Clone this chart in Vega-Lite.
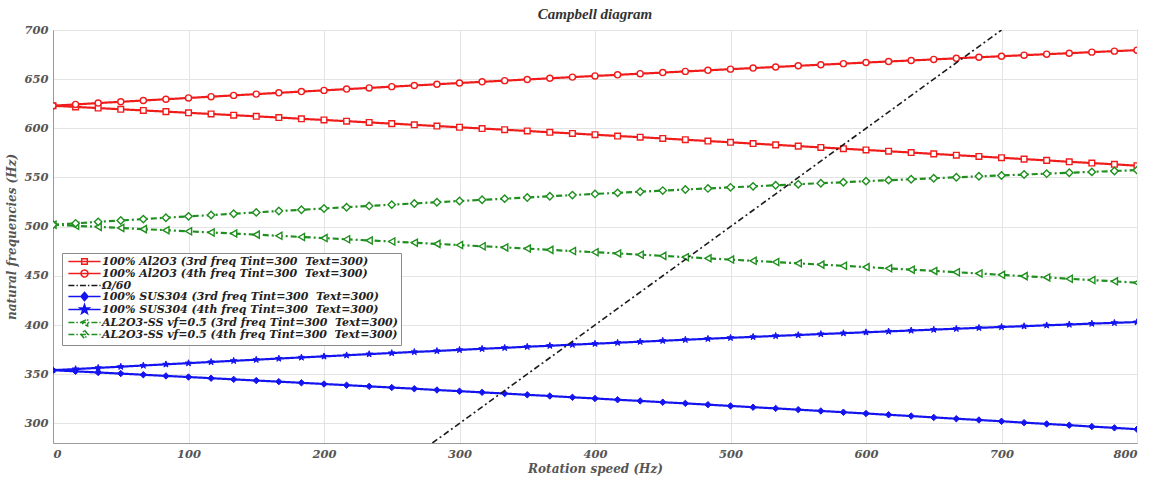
{
  "$schema": "https://vega.github.io/schema/vega-lite/v6.json",
  "width": 1084,
  "height": 413,
  "autosize": "none",
  "padding": {"left": 53, "top": 30, "right": 16, "bottom": 34},
  "background": "white",
  "title": {"text": "Campbell diagram", "font": "Liberation Serif", "fontSize": 15, "fontStyle": "italic", "fontWeight": "bold", "color": "#333333", "offset": 2, "anchor": "middle"},
  "config": {
    "view": {"stroke": "#9a9a9a", "strokeWidth": 1},
    "axis": {
      "labelFont": "DejaVu Serif", "labelFontStyle": "italic", "labelFontWeight": "bold", "labelFontSize": 11.5, "labelColor": "#555555",
      "titleFont": "DejaVu Serif", "titleFontStyle": "italic", "titleFontWeight": "bold", "titleFontSize": 12, "titleColor": "#555555",
      "gridColor": "#e4e4e4", "gridWidth": 1, "domainColor": "#9a9a9a", "ticks": false, "labelPadding": 5
    }
  },
  "datasets": {
    "freq": [
      {"x": 0, "a3": 623.0, "a4": 623.0, "b3": 354.0, "b4": 354.0, "g3": 502.0, "g4": 502.0},
      {"x": 16.667, "a3": 621.8, "a4": 624.3, "b3": 352.9, "b4": 355.2, "g3": 500.9, "g4": 503.4},
      {"x": 33.333, "a3": 620.6, "a4": 625.7, "b3": 351.7, "b4": 356.4, "g3": 499.8, "g4": 504.9},
      {"x": 50, "a3": 619.4, "a4": 627.0, "b3": 350.6, "b4": 357.6, "g3": 498.7, "g4": 506.3},
      {"x": 66.667, "a3": 618.2, "a4": 628.3, "b3": 349.4, "b4": 358.8, "g3": 497.5, "g4": 507.7},
      {"x": 83.333, "a3": 617.0, "a4": 629.6, "b3": 348.2, "b4": 360.0, "g3": 496.4, "g4": 509.1},
      {"x": 100, "a3": 615.8, "a4": 630.9, "b3": 347.1, "b4": 361.2, "g3": 495.3, "g4": 510.5},
      {"x": 116.667, "a3": 614.6, "a4": 632.2, "b3": 345.9, "b4": 362.4, "g3": 494.1, "g4": 511.8},
      {"x": 133.333, "a3": 613.4, "a4": 633.5, "b3": 344.7, "b4": 363.6, "g3": 493.0, "g4": 513.2},
      {"x": 150, "a3": 612.2, "a4": 634.8, "b3": 343.5, "b4": 364.7, "g3": 491.9, "g4": 514.5},
      {"x": 166.667, "a3": 611.0, "a4": 636.1, "b3": 342.4, "b4": 365.9, "g3": 490.7, "g4": 515.9},
      {"x": 183.333, "a3": 609.7, "a4": 637.4, "b3": 341.2, "b4": 367.0, "g3": 489.5, "g4": 517.2},
      {"x": 200, "a3": 608.5, "a4": 638.6, "b3": 340.0, "b4": 368.1, "g3": 488.4, "g4": 518.5},
      {"x": 216.667, "a3": 607.3, "a4": 639.9, "b3": 338.8, "b4": 369.2, "g3": 487.2, "g4": 519.8},
      {"x": 233.333, "a3": 606.0, "a4": 641.1, "b3": 337.6, "b4": 370.4, "g3": 486.0, "g4": 521.1},
      {"x": 250, "a3": 604.8, "a4": 642.4, "b3": 336.4, "b4": 371.5, "g3": 484.9, "g4": 522.4},
      {"x": 266.667, "a3": 603.6, "a4": 643.6, "b3": 335.2, "b4": 372.6, "g3": 483.7, "g4": 523.6},
      {"x": 283.333, "a3": 602.3, "a4": 644.8, "b3": 333.9, "b4": 373.6, "g3": 482.5, "g4": 524.9},
      {"x": 300, "a3": 601.1, "a4": 646.1, "b3": 332.7, "b4": 374.7, "g3": 481.3, "g4": 526.1},
      {"x": 316.667, "a3": 599.8, "a4": 647.3, "b3": 331.5, "b4": 375.8, "g3": 480.1, "g4": 527.3},
      {"x": 333.333, "a3": 598.6, "a4": 648.5, "b3": 330.3, "b4": 376.8, "g3": 478.9, "g4": 528.5},
      {"x": 350, "a3": 597.3, "a4": 649.7, "b3": 329.0, "b4": 377.9, "g3": 477.7, "g4": 529.7},
      {"x": 366.667, "a3": 596.0, "a4": 650.9, "b3": 327.8, "b4": 378.9, "g3": 476.4, "g4": 530.9},
      {"x": 383.333, "a3": 594.8, "a4": 652.1, "b3": 326.5, "b4": 380.0, "g3": 475.2, "g4": 532.1},
      {"x": 400, "a3": 593.5, "a4": 653.3, "b3": 325.3, "b4": 381.0, "g3": 474.0, "g4": 533.3},
      {"x": 416.667, "a3": 592.2, "a4": 654.4, "b3": 324.0, "b4": 382.0, "g3": 472.8, "g4": 534.4},
      {"x": 433.333, "a3": 591.0, "a4": 655.6, "b3": 322.8, "b4": 383.0, "g3": 471.5, "g4": 535.5},
      {"x": 450, "a3": 589.7, "a4": 656.7, "b3": 321.5, "b4": 384.0, "g3": 470.3, "g4": 536.7},
      {"x": 466.667, "a3": 588.4, "a4": 657.9, "b3": 320.3, "b4": 385.0, "g3": 469.0, "g4": 537.8},
      {"x": 483.333, "a3": 587.1, "a4": 659.0, "b3": 319.0, "b4": 386.0, "g3": 467.8, "g4": 538.9},
      {"x": 500, "a3": 585.8, "a4": 660.2, "b3": 317.7, "b4": 387.0, "g3": 466.5, "g4": 540.0},
      {"x": 516.667, "a3": 584.5, "a4": 661.3, "b3": 316.4, "b4": 387.9, "g3": 465.3, "g4": 541.0},
      {"x": 533.333, "a3": 583.2, "a4": 662.4, "b3": 315.2, "b4": 388.9, "g3": 464.0, "g4": 542.1},
      {"x": 550, "a3": 581.9, "a4": 663.6, "b3": 313.9, "b4": 389.8, "g3": 462.7, "g4": 543.2},
      {"x": 566.667, "a3": 580.6, "a4": 664.7, "b3": 312.6, "b4": 390.8, "g3": 461.4, "g4": 544.2},
      {"x": 583.333, "a3": 579.3, "a4": 665.8, "b3": 311.3, "b4": 391.7, "g3": 460.2, "g4": 545.2},
      {"x": 600, "a3": 578.0, "a4": 666.9, "b3": 310.0, "b4": 392.6, "g3": 458.9, "g4": 546.3},
      {"x": 616.667, "a3": 576.7, "a4": 668.0, "b3": 308.7, "b4": 393.5, "g3": 457.6, "g4": 547.3},
      {"x": 633.333, "a3": 575.4, "a4": 669.0, "b3": 307.4, "b4": 394.4, "g3": 456.3, "g4": 548.2},
      {"x": 650, "a3": 574.0, "a4": 670.1, "b3": 306.0, "b4": 395.3, "g3": 455.0, "g4": 549.2},
      {"x": 666.667, "a3": 572.7, "a4": 671.2, "b3": 304.7, "b4": 396.2, "g3": 453.7, "g4": 550.2},
      {"x": 683.333, "a3": 571.4, "a4": 672.3, "b3": 303.4, "b4": 397.1, "g3": 452.4, "g4": 551.2},
      {"x": 700, "a3": 570.1, "a4": 673.3, "b3": 302.1, "b4": 398.0, "g3": 451.0, "g4": 552.1},
      {"x": 716.667, "a3": 568.7, "a4": 674.4, "b3": 300.7, "b4": 398.8, "g3": 449.7, "g4": 553.0},
      {"x": 733.333, "a3": 567.4, "a4": 675.4, "b3": 299.4, "b4": 399.7, "g3": 448.4, "g4": 553.9},
      {"x": 750, "a3": 566.0, "a4": 676.4, "b3": 298.1, "b4": 400.5, "g3": 447.0, "g4": 554.9},
      {"x": 766.667, "a3": 564.7, "a4": 677.5, "b3": 296.7, "b4": 401.4, "g3": 445.7, "g4": 555.7},
      {"x": 783.333, "a3": 563.4, "a4": 678.5, "b3": 295.4, "b4": 402.2, "g3": 444.4, "g4": 556.6},
      {"x": 800, "a3": 562.0, "a4": 679.5, "b3": 294.0, "b4": 403.0, "g3": 443.0, "g4": 557.5}
    ],
    "omega": [
      {"x": 280, "om": 280},
      {"x": 700, "om": 700}
    ]
  },
  "layer": [
    {
      "data": {"name": "freq"},
      "transform": [{"fold": ["a3", "a4", "b3", "b4", "g3", "g4"], "as": ["series", "f"]}],
      "mark": {"type": "line", "clip": true},
      "encoding": {
        "x": {"field": "x", "type": "quantitative", "scale": {"domain": [0, 800], "nice": false}, "axis": {"values": [0, 100, 200, 300, 400, 500, 600, 700, 800], "title": "Rotation speed (Hz)", "titlePadding": 4}},
        "y": {"field": "f", "type": "quantitative", "scale": {"domain": [280, 700], "nice": false, "zero": false}, "axis": {"values": [300, 350, 400, 450, 500, 550, 600, 650, 700], "title": "natural frequencies (Hz)", "titlePadding": 5}},
        "color": {
          "field": "series", "type": "nominal",
          "scale": {"domain": ["a3", "a4", "om", "b3", "b4", "g3", "g4"], "range": ["#f01c1c", "#f01c1c", "#1a1a1a", "#1414f0", "#1414f0", "#1f8f1f", "#1f8f1f"]},
          "legend": {
            "orient": "none", "legendX": 9, "legendY": 223,
            "title": null,
            "labelFont": "DejaVu Serif", "labelFontStyle": "italic", "labelFontWeight": "bold", "labelFontSize": 11, "labelColor": "#222222", "labelLimit": 600,
            "labelExpr": "{'a3':'100% Al2O3 (3rd freq Tint=300\u00a0 Text=300)','a4':'100% Al2O3 (4th freq Tint=300\u00a0 Text=300)','om':'Ω/60','b3':'100% SUS304 (3rd freq Tint=300\u00a0 Text=300)','b4':'100% SUS304 (4th freq Tint=300\u00a0 Text=300)','g3':'AL2O3-SS vf=0.5 (3rd freq Tint=300\u00a0 Text=300)','g4':'AL2O3-SS vf=0.5 (4th freq Tint=300\u00a0 Text=300)'}[datum.value]",
            "symbolSize": 49, "symbolOffset": 14, "labelOffset": 12, "rowPadding": -3,
            "fillColor": "white", "strokeColor": "#8a8a8a", "padding": 3,
            "encode": {
              "symbols": {
                "update": {
                  "shape": {"signal": "{'a3':'M-4.6,0H4.6M-0.8,-0.8H0.8V0.8H-0.8Z','a4':'M-4.6,0H4.6M-1,0A1,1 0 1,0 1,0A1,1 0 1,0 -1,0Z','om':'M-4.6,0H4.6','b3':'M-4.6,0H4.6M0,-1.2L1,0L0,1.2L-1,0Z','b4':'M-4.6,0H4.6M0,-1.4L0.33,-0.45L1.33,-0.43L0.53,0.17L0.82,1.13L0,0.56L-0.82,1.13L-0.53,0.17L-1.33,-0.43L-0.33,-0.45Z','g3':'M-4.6,0H4.6M-1.1,0L0.9,-1L0.9,1Z','g4':'M-4.6,0H4.6M0,-1.2L1,0L0,1.2L-1,0Z'}[datum.value]"},
                  "strokeDash": {"signal": "(datum.value==='om'||datum.value==='g3'||datum.value==='g4') ? [6,2,1.5,2] : [1,0]"},
                  "fill": {"signal": "datum.value==='b3'||datum.value==='b4' ? '#1414f0' : 'white'"},
                  "fillOpacity": {"value": 1},
                  "strokeWidth": {"value": 1.5},
                  "opacity": {"value": 1}
                }
              }
            }
          }
        },
        "strokeDash": {"field": "series", "type": "nominal", "scale": {"domain": ["a3", "a4", "b3", "b4", "g3", "g4"], "range": [[1, 0], [1, 0], [1, 0], [1, 0], [6, 3, 2, 3], [6, 3, 2, 3]]}, "legend": null},
        "strokeWidth": {"field": "series", "type": "nominal", "scale": {"domain": ["a3", "a4", "b3", "b4", "g3", "g4"], "range": [2.2, 2.2, 2.2, 2.2, 1.6, 1.6]}, "legend": null}
      }
    },
    {
      "data": {"name": "freq"},
      "transform": [{"fold": ["a3", "a4", "g3", "g4"], "as": ["series", "f"]}],
      "mark": {"type": "point", "filled": true, "fill": "white", "strokeWidth": 1.4, "opacity": 1, "clip": true},
      "encoding": {
        "x": {"field": "x", "type": "quantitative"},
        "y": {"field": "f", "type": "quantitative"},
        "stroke": {"field": "series", "type": "nominal", "scale": {"domain": ["a3", "a4", "b3", "b4", "g3", "g4"], "range": ["#f01c1c", "#f01c1c", "#1414f0", "#1414f0", "#1f8f1f", "#1f8f1f"]}, "legend": null},
        "shape": {"field": "series", "type": "nominal", "scale": {"domain": ["a3", "a4", "b3", "b4", "g3", "g4"], "range": ["square", "circle", "diamond", "M0,-1L0.235,-0.324L0.951,-0.309L0.38,0.124L0.588,0.809L0,0.4L-0.588,0.809L-0.38,0.124L-0.951,-0.309L-0.235,-0.324Z", "triangle-left", "diamond"]}, "legend": null},
        "size": {"field": "series", "type": "nominal", "scale": {"domain": ["a3", "a4", "b3", "b4", "g3", "g4"], "range": [32, 55, 55, 120, 50, 55]}, "legend": null}
      }
    },
    {
      "data": {"name": "freq"},
      "transform": [{"fold": ["b3", "b4"], "as": ["series", "f"]}],
      "mark": {"type": "point", "filled": true, "fill": "#1414f0", "strokeWidth": 1, "opacity": 1, "clip": true},
      "encoding": {
        "x": {"field": "x", "type": "quantitative"},
        "y": {"field": "f", "type": "quantitative"},
        "stroke": {"field": "series", "type": "nominal", "legend": null},
        "shape": {"field": "series", "type": "nominal", "legend": null},
        "size": {"field": "series", "type": "nominal", "legend": null}
      }
    },
    {
      "data": {"name": "omega"},
      "transform": [{"fold": ["om"], "as": ["series", "f"]}],
      "mark": {"type": "line", "strokeWidth": 1.6, "strokeDash": [6, 3, 2, 3], "clip": true},
      "encoding": {
        "x": {"field": "x", "type": "quantitative"},
        "y": {"field": "f", "type": "quantitative"},
        "color": {"field": "series", "type": "nominal"}
      }
    }
  ]
}
